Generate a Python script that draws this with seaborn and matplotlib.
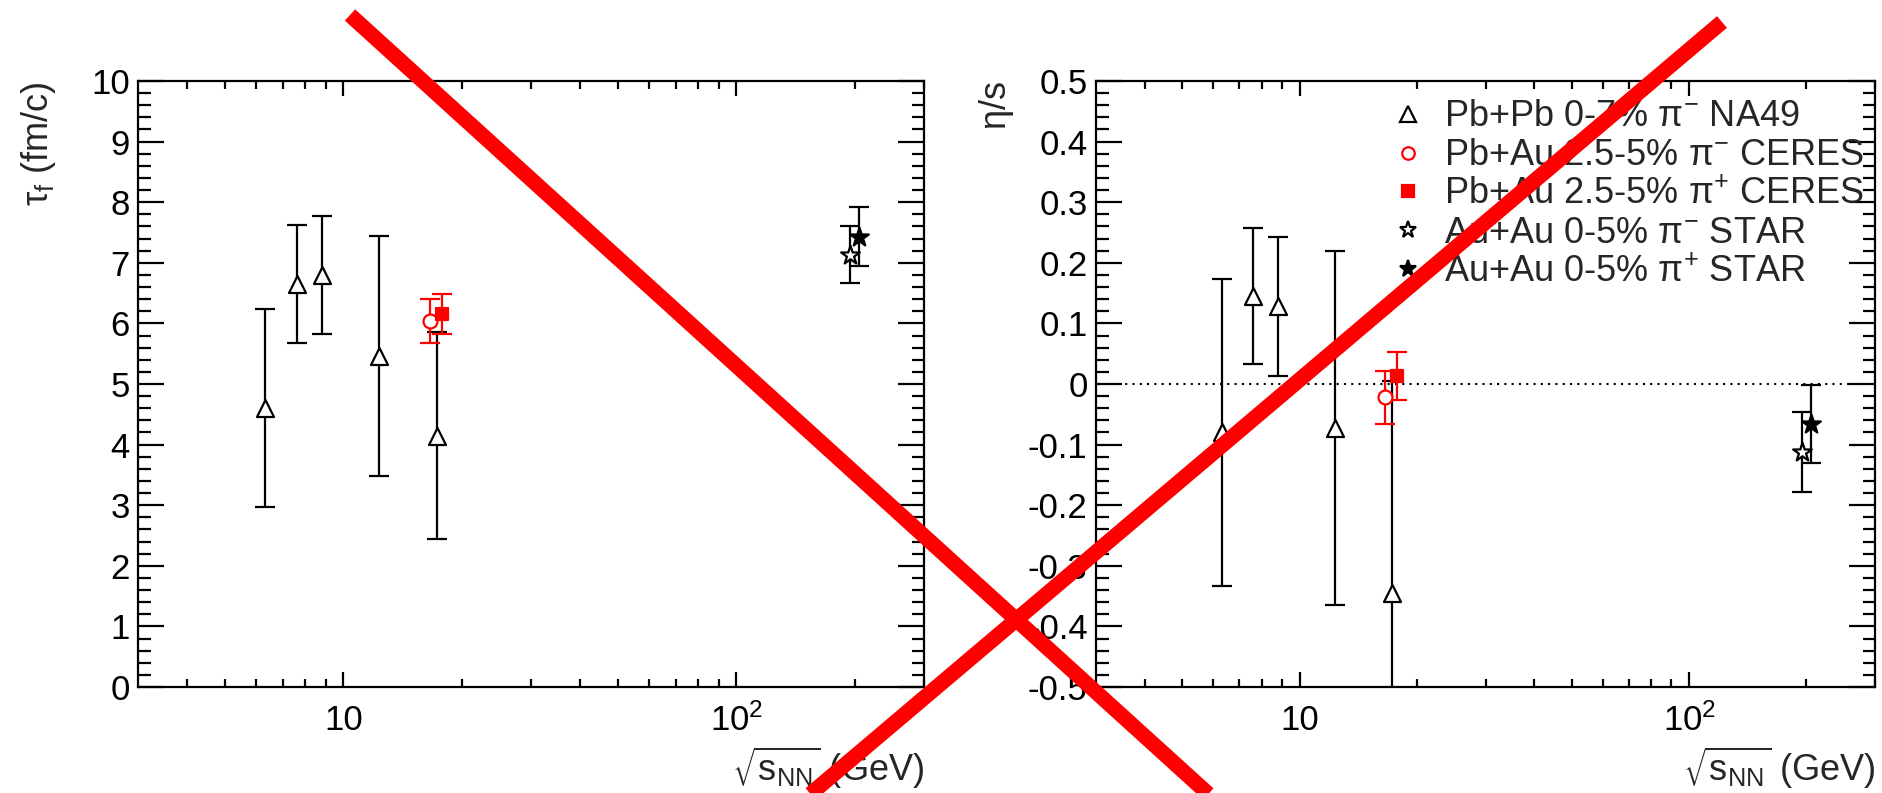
import numpy as np
import pandas as pd
import seaborn as sns
import matplotlib.pyplot as plt
from matplotlib import ticker
from matplotlib.lines import Line2D

# sqrt(s_NN) in GeV
energy_na49 = [6.3, 7.6, 8.8, 12.3, 17.3]
energy_ceres_minus = [16.6]
energy_ceres_plus = [17.8]
energy_star_minus = [195]
energy_star_plus = [205]

# freeze-out time tau_f (fm/c)
tau_na49 = [4.6, 6.65, 6.8, 5.46, 4.15]
tau_na49_err = [1.63, 0.97, 0.98, 1.98, 1.7]
tau_ceres_minus = [6.04]
tau_ceres_minus_err = [0.36]
tau_ceres_plus = [6.16]
tau_ceres_plus_err = [0.33]
tau_star_minus = [7.13]
tau_star_minus_err = [0.47]
tau_star_plus = [7.43]
tau_star_plus_err = [0.49]

# eta/s
eta_na49 = [-0.08, 0.145, 0.128, -0.072, -0.345]
eta_na49_err = [0.254, 0.112, 0.114, 0.292, 0.35]
eta_ceres_minus = [-0.022]
eta_ceres_minus_err = [0.044]
eta_ceres_plus = [0.013]
eta_ceres_plus_err = [0.04]
eta_star_minus = [-0.113]
eta_star_minus_err = [0.066]
eta_star_plus = [-0.066]
eta_star_plus_err = [0.064]

labels = ['Pb+Pb 0-7% $\\pi^{-}$ NA49',
          'Pb+Au 2.5-5% $\\pi^{-}$ CERES',
          'Pb+Au 2.5-5% $\\pi^{+}$ CERES',
          'Au+Au 0-5% $\\pi^{-}$ STAR',
          'Au+Au 0-5% $\\pi^{+}$ STAR']

series = [
    dict(x=energy_na49, tau=tau_na49, tau_err=tau_na49_err, eta=eta_na49, eta_err=eta_na49_err,
         marker='^', color='black', face='white', s=150),
    dict(x=energy_ceres_minus, tau=tau_ceres_minus, tau_err=tau_ceres_minus_err,
         eta=eta_ceres_minus, eta_err=eta_ceres_minus_err,
         marker='o', color='red', face='white', s=100),
    dict(x=energy_ceres_plus, tau=tau_ceres_plus, tau_err=tau_ceres_plus_err,
         eta=eta_ceres_plus, eta_err=eta_ceres_plus_err,
         marker='s', color='red', face='red', s=80),
    dict(x=energy_star_minus, tau=tau_star_minus, tau_err=tau_star_minus_err,
         eta=eta_star_minus, eta_err=eta_star_minus_err,
         marker='*', color='black', face='white', s=200),
    dict(x=energy_star_plus, tau=tau_star_plus, tau_err=tau_star_plus_err,
         eta=eta_star_plus, eta_err=eta_star_plus_err,
         marker='*', color='black', face='black', s=200),
]

sns.set_style('ticks')
plt.rcParams['font.family'] = ['Liberation Sans', 'DejaVu Sans']
plt.rcParams['mathtext.default'] = 'regular'
plt.rcParams['axes.linewidth'] = 1.6

fig = plt.figure(figsize=(18.82, 7.93), dpi=100)
ax1 = fig.add_axes([138 / 1882, 1 - 687 / 793, 786 / 1882, 606 / 793])
ax2 = fig.add_axes([1096 / 1882, 1 - 687 / 793, 779 / 1882, 606 / 793])


def tick_fmt(v, pos):
    v = round(v, 6)
    if v == 0:
        return '0'
    return '%g' % v


def style_axis(ax, ylim, ymajor, yminor):
    ax.set_xscale('log')
    ax.set_xlim(3, 300)
    ax.set_ylim(*ylim)
    ax.xaxis.set_major_locator(ticker.FixedLocator([10, 100]))
    ax.xaxis.set_major_formatter(ticker.FixedFormatter(['10', '$10^{2}$']))
    ax.xaxis.set_minor_locator(ticker.FixedLocator([4, 5, 6, 7, 8, 9, 20, 30, 40, 50, 60, 70, 80, 90, 200, 300]))
    ax.xaxis.set_minor_formatter(ticker.NullFormatter())
    ax.yaxis.set_major_locator(ticker.MultipleLocator(ymajor))
    ax.yaxis.set_minor_locator(ticker.MultipleLocator(yminor))
    ax.yaxis.set_major_formatter(ticker.FuncFormatter(tick_fmt))
    ax.tick_params(which='both', direction='in', top=True, right=True, width=1.6, colors='black')
    ax.tick_params(axis='y', which='major', length=19, labelsize=25, pad=6)
    ax.tick_params(axis='y', which='minor', length=9)
    ax.tick_params(axis='x', which='major', length=11, labelsize=25, pad=12)
    ax.tick_params(axis='x', which='minor', length=6)
    for sp in ax.spines.values():
        sp.set_color('black')
    ax.set_xlabel('')
    ax.set_ylabel('')
    ax.text(1.0, -0.095, '$\\sqrt{s_{NN}}$ (GeV)', transform=ax.transAxes,
            ha='right', va='top', fontsize=26)


for ax, key, err in [(ax1, 'tau', 'tau_err'), (ax2, 'eta', 'eta_err')]:
    for s in series:
        ax.errorbar(s['x'], s[key], yerr=s[err], fmt='none', ecolor=s['color'],
                    elinewidth=1.6, capsize=7, capthick=1.6, zorder=2)
        sns.scatterplot(x=s['x'], y=s[key], marker=s['marker'], s=s['s'],
                        facecolor=s['face'], edgecolor=s['color'], linewidth=1.6,
                        ax=ax, zorder=3, legend=False)

style_axis(ax1, (0, 10), 1, 0.2)
style_axis(ax2, (-0.5, 0.5), 0.1, 0.02)
ax2.axhline(0, color='black', lw=1.5, ls=(0, (1, 2.5)), zorder=1)

ax1.text(-0.126, 1.0, '$\\tau_{f}$ (fm/c)', transform=ax1.transAxes, rotation=90,
         ha='center', va='top', fontsize=26)
ax2.text(-0.128, 1.0, '$\\eta$/s', transform=ax2.transAxes, rotation=90,
         ha='center', va='top', fontsize=26)

handles = [Line2D([], [], ls='none', marker=s['marker'], markersize=np.sqrt(s['s']) * 0.9,
                  markerfacecolor=s['face'], markeredgecolor=s['color'], markeredgewidth=1.6)
           for s in series]
ax2.legend(handles, labels, loc='upper left', bbox_to_anchor=(0.377, 0.97),
           frameon=False, fontsize=26, handlelength=1.0, handletextpad=0.5,
           borderpad=0, borderaxespad=0, labelspacing=0.11)

# red cross drawn over the whole figure (pixel positions of the overlay)
cross_a = [(350, 15), (1248, 830)]
cross_b = [(1722, 22), (768, 830)]
for (xa, ya), (xb, yb) in [cross_a, cross_b]:
    fig.add_artist(Line2D([xa / 1882, xb / 1882], [1 - ya / 793, 1 - yb / 793],
                          transform=fig.transFigure, color='red', lw=11,
                          solid_capstyle='butt', zorder=10))

fig.savefig('out.png', dpi=100)
